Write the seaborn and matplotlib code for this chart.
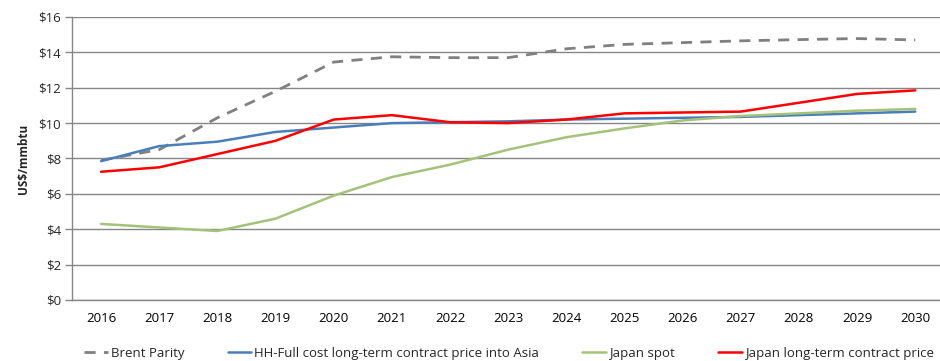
import matplotlib
matplotlib.use("Agg")
import matplotlib.pyplot as plt
import seaborn as sns
import pandas as pd
import numpy as np
from matplotlib.ticker import FixedLocator, FuncFormatter

years = ["2016", "2017", "2018", "2019", "2020", "2021", "2022", "2023",
         "2024", "2025", "2026", "2027", "2028", "2029", "2030"]
brent_parity = [7.9, 8.5, 10.3, 11.8, 13.45, 13.75, 13.7, 13.7, 14.2, 14.45, 14.55, 14.65, 14.72, 14.78, 14.7]
hh_full_cost = [7.85, 8.7, 8.95, 9.5, 9.75, 10.0, 10.05, 10.1, 10.2, 10.25, 10.3, 10.35, 10.45, 10.55, 10.65]
japan_spot = [4.3, 4.1, 3.9, 4.6, 5.9, 6.95, 7.65, 8.5, 9.2, 9.7, 10.15, 10.4, 10.55, 10.7, 10.8]
japan_lt = [7.25, 7.5, 8.25, 9.0, 10.2, 10.45, 10.05, 10.0, 10.2, 10.55, 10.6, 10.65, 11.15, 11.65, 11.85]

series_names = ["Brent Parity", "HH-Full cost long-term contract price into Asia",
                "Japan spot", "Japan long-term contract price"]
series_vals = [brent_parity, hh_full_cost, japan_spot, japan_lt]
colors = ["#808080", "#4A7EBB", "#A5C27B", "#FF0000"]
styles = [(0, (4, 3)), "-", "-", "-"]
widths = [2.0, 1.8, 1.8, 1.8]

sns.set_theme(style="white")
plt.rcParams["font.family"] = ["Open Sans", "DejaVu Sans"]

fig = plt.figure(figsize=(9.4, 3.61), dpi=100)
ax = fig.add_axes([0.0766, 0.169, 0.928, 0.784])

x = np.arange(len(years))
for name, vals, c, ls, lw in zip(series_names, series_vals, colors, styles, widths):
    df = pd.DataFrame({"x": x, "y": vals})
    sns.lineplot(data=df, x="x", y="y", ax=ax, color=c, linestyle=ls,
                 linewidth=lw, label=name, legend=False)

ax.set_xlim(-0.5, len(years) - 0.5)
ax.set_ylim(0, 16)
ax.set_yticks(np.arange(0, 17, 2))
ax.yaxis.set_major_formatter(FuncFormatter(lambda v, p: f"${int(v)}"))
ax.set_xticks(x)
ax.set_xticklabels(years)
ax.xaxis.set_minor_locator(FixedLocator(np.arange(-0.5, len(years), 1.0)))
ax.tick_params(axis="x", which="major", length=0, pad=9, labelsize=9.5, colors="black")
ax.tick_params(axis="x", which="minor", length=5, width=1, color="#868686", direction="out")
ax.tick_params(axis="y", which="major", length=5, width=1, color="#868686", labelsize=9.5,
               left=True, direction="out", pad=3)
ax.grid(axis="y", color="#868686", linewidth=1)
ax.set_axisbelow(True)
for s in ["top", "right"]:
    ax.spines[s].set_visible(False)
for s in ["left", "bottom"]:
    ax.spines[s].set_color("#868686")
    ax.spines[s].set_linewidth(1)
ax.set_xlabel("")
ax.set_ylabel("US$/mmbtu", fontsize=8.5, fontweight="bold", labelpad=6)

handles, labels = ax.get_legend_handles_labels()
fig.legend(handles, labels, loc="lower left", bbox_to_anchor=(0.077, -0.03), ncol=4,
           frameon=False, fontsize=9.5, handlelength=1.8, handletextpad=0.2,
           columnspacing=3.3)

fig.savefig("out.png", dpi=100)
